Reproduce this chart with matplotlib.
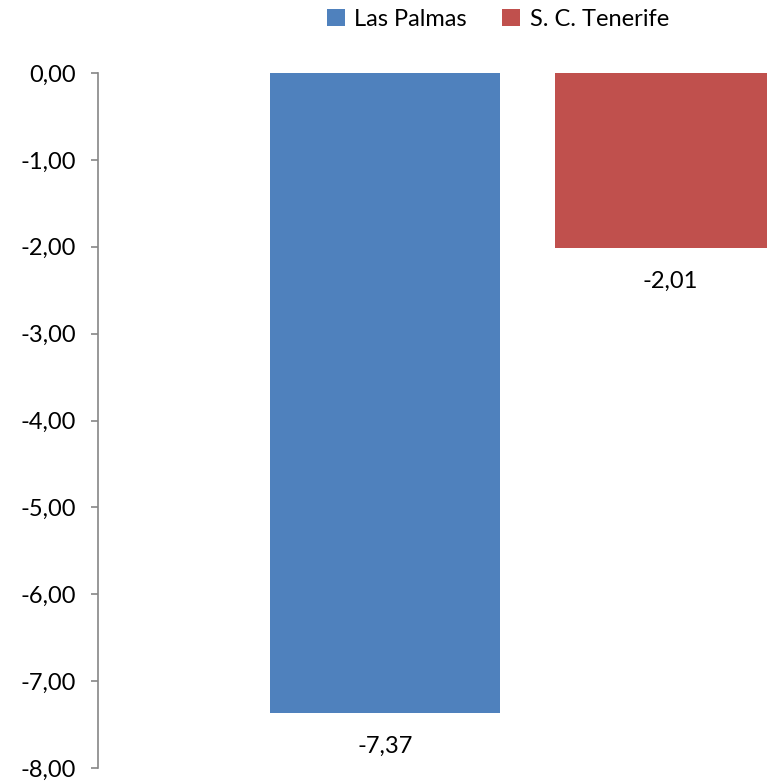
import matplotlib
matplotlib.use("Agg")
import matplotlib.pyplot as plt
from matplotlib.ticker import FuncFormatter

# data
series = ["Las Palmas", "S. C. Tenerife"]
values = [-7.37, -2.01]
colors = ["#4F81BD", "#C0504D"]
yticks = [0, -1, -2, -3, -4, -5, -6, -7, -8]

plt.rcParams['font.family'] = ['Lato', 'DejaVu Sans']

fig = plt.figure(figsize=(7.67, 7.81), dpi=100)
ax = fig.add_axes([98/767, 13/781, 669/767, 695/781])

def fmt(v, pos=None):
    return ("%.2f" % v).replace(".", ",")

for i, (name, v, c) in enumerate(zip(series, values, colors)):
    ax.bar(i, v, width=0.807, color=c, label=name)
    ax.annotate(fmt(v), (i, v), xytext=(0, -24), textcoords="offset points",
                ha="center", va="center", fontsize=17, color="black")

ax.set_xlim(-1.007, 1.340)
ax.set_ylim(-8, 0)
ax.set_yticks(yticks)
ax.yaxis.set_major_formatter(FuncFormatter(fmt))
ax.tick_params(axis="y", length=5, width=1.2, color="#868686", pad=11, labelsize=17)
ax.tick_params(axis="x", bottom=False, labelbottom=False)
for s in ["top", "right", "bottom"]:
    ax.spines[s].set_visible(False)
ax.spines["left"].set_color("#868686")
ax.spines["left"].set_linewidth(1.2)

fig.legend(loc="center", bbox_to_anchor=(498/767, 1 - 19/781), ncol=2, frameon=False,
           fontsize=17, handlelength=0.75, handleheight=0.75, handletextpad=0.4,
           columnspacing=1.5)

fig.savefig("out.png", dpi=100)
